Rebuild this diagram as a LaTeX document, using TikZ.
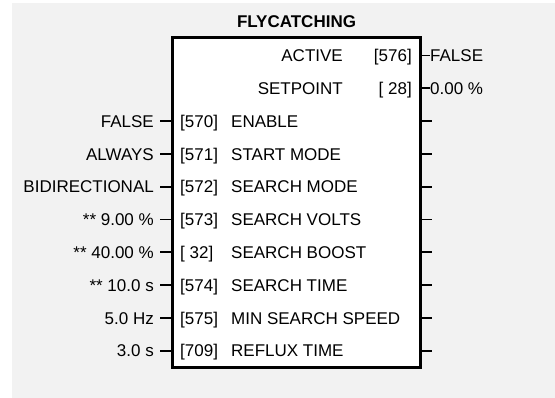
\documentclass[tikz,border=0pt]{standalone}
\usepackage{fontspec}
\setmainfont{Liberation Sans}
\usetikzlibrary{positioning}
\definecolor{panelgray}{RGB}{242,242,242}

\begin{document}
\begin{tikzpicture}[x=1pt, y=-1pt, font=\fontsize{17}{20}\selectfont,
    lbl/.style={inner sep=0pt, text height=12.3pt, text depth=0pt},
    tick/.style={line width=1.8pt}]
    \useasboundingbox (0,0) rectangle (555,398);
    \fill[panelgray] (12,3) rectangle (555,398);
    \node[draw, line width=2.2pt, fill=white, minimum width=248pt, minimum height=330pt, inner sep=0pt] (fc) at (296.5,202.5) {};
    \node[lbl, font=\fontsize{17}{20}\selectfont\bfseries] (title) at (296.5,21) {FLYCATCHING};
    % outputs
    \foreach \nm/\nr/\vl [count=\i from 0] in {ACTIVE/576/FALSE, SETPOINT/\ 28/0.00 \%} {
        \pgfmathsetmacro{\ry}{55.5+32.8*\i}
        \node[lbl, anchor=east] (out\i) at (343,\ry) {\nm};
        \node[lbl, anchor=east] (outnr\i) at (412,\ry) {[\nr]};
        \node[lbl, anchor=west] (outvl\i) at (430,\ry) {\vl};
        \draw[tick] (fc.east |- outvl\i.west) -- (outvl\i.west);
    }
    % inputs
    \foreach \nr/\nm/\vl [count=\i from 2] in {570/ENABLE/FALSE, 571/START MODE/ALWAYS,
        572/SEARCH MODE/BIDIRECTIONAL, 573/SEARCH VOLTS/** 9.00 \%,
        \ 32/SEARCH BOOST/** 40.00 \%, 574/SEARCH TIME/** 10.0 s,
        575/MIN SEARCH SPEED/5.0 Hz, 709/REFLUX TIME/3.0 s} {
        \pgfmathsetmacro{\ry}{55.5+32.8*\i}
        \node[lbl, anchor=west] (innr\i) at (180,\ry) {[\nr]};
        \node[lbl, anchor=west] (in\i) at (231,\ry) {\nm};
        \node[lbl, anchor=east, inner xsep=6pt] (invl\i) at (160,\ry) {\vl};
        \draw[tick] (invl\i.east) -- (fc.west |- invl\i.east);
        \coordinate (outend\i) at (432,\ry);
        \draw[tick] (fc.east |- outend\i) -- (outend\i);
    }
\end{tikzpicture}
\end{document}
